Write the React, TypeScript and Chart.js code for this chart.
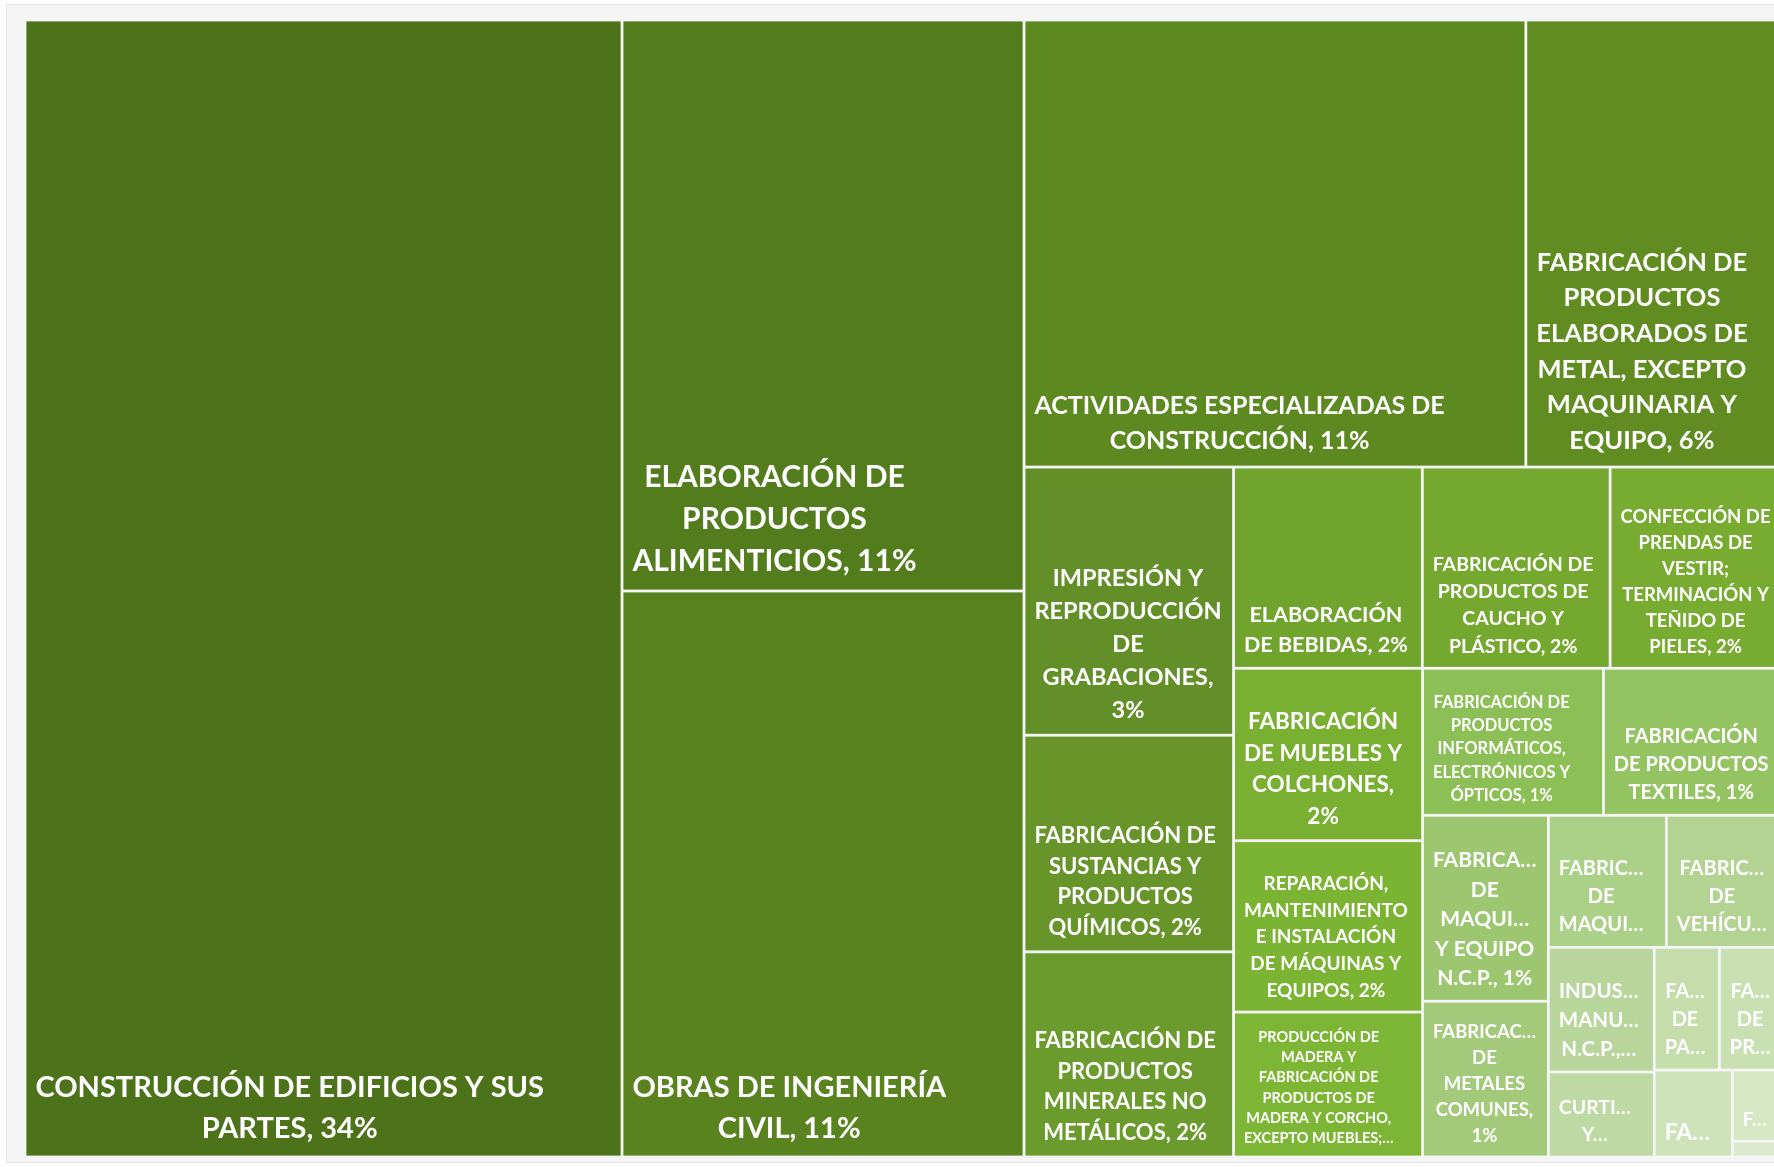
import React, { useEffect, useRef } from "react";
import { Chart, registerables } from "chart.js";

Chart.register(...registerables);

// ---- data ----
const categories: string[] = [
  "CONSTRUCCIÓN DE EDIFICIOS Y SUS PARTES",
  "ELABORACIÓN DE PRODUCTOS ALIMENTICIOS",
  "OBRAS DE INGENIERÍA CIVIL",
  "ACTIVIDADES ESPECIALIZADAS DE CONSTRUCCIÓN",
  "FABRICACIÓN DE PRODUCTOS ELABORADOS DE METAL, EXCEPTO MAQUINARIA Y EQUIPO",
  "IMPRESIÓN Y REPRODUCCIÓN DE GRABACIONES",
  "FABRICACIÓN DE SUSTANCIAS Y PRODUCTOS QUÍMICOS",
  "FABRICACIÓN DE PRODUCTOS MINERALES NO METÁLICOS",
  "ELABORACIÓN DE BEBIDAS",
  "FABRICACIÓN DE PRODUCTOS DE CAUCHO Y PLÁSTICO",
  "CONFECCIÓN DE PRENDAS DE VESTIR; TERMINACIÓN Y TEÑIDO DE PIELES",
  "FABRICACIÓN DE MUEBLES Y COLCHONES",
  "REPARACIÓN, MANTENIMIENTO E INSTALACIÓN DE MÁQUINAS Y EQUIPOS",
  "PRODUCCIÓN DE MADERA Y FABRICACIÓN DE PRODUCTOS DE MADERA Y CORCHO, EXCEPTO MUEBLES; FABRICACIÓN DE ARTÍCULOS DE PAJA Y DE MATERIALES TRENZABLES",
  "FABRICACIÓN DE PRODUCTOS INFORMÁTICOS, ELECTRÓNICOS Y ÓPTICOS",
  "FABRICACIÓN DE PRODUCTOS TEXTILES",
  "FABRICACIÓN DE MAQUINARIA Y EQUIPO N.C.P.",
  "FABRICACIÓN DE METALES COMUNES",
  "FABRICACIÓN DE MAQUINARIA Y APARATOS ELÉCTRICOS",
  "FABRICACIÓN DE VEHÍCULOS AUTOMOTORES, REMOLQUES Y SEMIRREMOLQUES",
  "INDUSTRIAS MANUFACTURERAS N.C.P.",
  "CURTIDO Y RECURTIDO DE CUEROS; FABRICACIÓN DE CALZADO",
  "FABRICACIÓN DE PAPEL Y DE PRODUCTOS DE PAPEL",
  "FABRICACIÓN DE PRODUCTOS FARMACÉUTICOS, SUSTANCIAS QUÍMICAS MEDICINALES Y PRODUCTOS BOTÁNICOS",
  "FABRICACIÓN DE OTROS EQUIPOS DE TRANSPORTE",
  "FABRICACIÓN DE COQUE Y PRODUCTOS DE LA REFINACIÓN DEL PETRÓLEO",
  "ELABORACIÓN DE PRODUCTOS DE TABACO",
];

const shares: number[] = [
  33.95, 11.48, 11.38, 11.22, 5.75, 2.81, 2.27, 2.15, 1.9, 1.89, 1.74, 1.63,
  1.62, 1.37, 1.33, 1.32, 1.17, 0.98, 0.78, 0.77, 0.66, 0.45, 0.4, 0.39, 0.34,
  0.18, 0.04,
];

// ---- styles ----
const cellColors: string[] = [
  "#4c731a", "#537c1d", "#58831f", "#5d8921", "#608c22", "#638f28", "#67952a",
  "#6b9b2c", "#71a42d", "#74a82e", "#77ac30", "#79b031", "#7bb332", "#7db634",
  "#8cbf55", "#94c362", "#9cc66f", "#a3ca7a", "#abd087", "#b2d392", "#b8d69b",
  "#bed9a3", "#c4ddab", "#c9e0b2", "#cfe3bb", "#d5e7c3", "#dbeacc",
];

const labelFontPx: number[] = [
  29, 30, 29, 25, 25.5, 23.5, 22, 22, 21.5, 19.5, 18.5, 22.5, 19, 14.5, 16.5,
  20, 21, 18.5, 20, 20, 20.5, 19.5, 20, 20, 23, 19, 18,
];

const FONT_FAMILY = "Lato, 'Open Sans', sans-serif";

type R = { x: number; y: number; w: number; h: number };

function squarify(values: number[], W: number, H: number): R[] {
  const total = values.reduce((a, b) => a + b, 0);
  const order = values.map((_, i) => i).sort((a, b) => values[b] - values[a]);
  const areas = order.map((i) => (values[i] / total) * W * H);
  const rects: R[] = new Array(values.length);
  let x = 0, y = 0, w = W, h = H;
  const worst = (row: number[], s: number) => {
    const sum = row.reduce((a, b) => a + b, 0);
    let m = 0;
    for (const r of row) {
      m = Math.max(m, (s * s * r) / (sum * sum), (sum * sum) / (s * s * r));
    }
    return m;
  };
  let i = 0;
  while (i < areas.length) {
    const s = Math.min(w, h);
    let row = [areas[i]];
    let best = worst(row, s);
    let j = i + 1;
    while (j < areas.length) {
      const cand = [...row, areas[j]];
      const wv = worst(cand, s);
      if (wv > best) break;
      row = cand;
      best = wv;
      j++;
    }
    const sum = row.reduce((a, b) => a + b, 0);
    if (w >= h) {
      const cw = sum / h;
      let yy = y;
      row.forEach((a, k) => {
        const rh = a / cw;
        rects[order[i + k]] = { x, y: yy, w: cw, h: rh };
        yy += rh;
      });
      x += cw;
      w -= cw;
    } else {
      const rh = sum / w;
      let xx = x;
      row.forEach((a, k) => {
        const cw = a / rh;
        rects[order[i + k]] = { x: xx, y, w: cw, h: rh };
        xx += cw;
      });
      y += rh;
      h -= rh;
    }
    i = j;
  }
  return rects;
}

function truncateWord(ctx: CanvasRenderingContext2D, word: string, maxW: number) {
  let s = word;
  while (s.length > 1 && ctx.measureText(s + "…").width > maxW) s = s.slice(0, -1);
  return s + "…";
}

function wrapLabel(ctx: CanvasRenderingContext2D, text: string, maxW: number, maxLines: number) {
  const words = text.split(" ");
  const lines: string[] = [];
  let cur = "";
  for (const word of words) {
    const test = cur ? cur + " " + word : word;
    if (ctx.measureText(test).width <= maxW) {
      cur = test;
    } else {
      if (cur) lines.push(cur);
      if (ctx.measureText(word).width > maxW) {
        lines.push(truncateWord(ctx, word, maxW));
        cur = "";
      } else {
        cur = word;
      }
    }
  }
  if (cur) lines.push(cur);
  if (lines.length > maxLines) {
    const kept = lines.slice(0, maxLines);
    if (kept.length > 0) {
      let last = kept[kept.length - 1];
      if (!last.endsWith("…")) {
        while (last.length > 1 && ctx.measureText(last + "…").width > maxW) last = last.slice(0, -1);
        last = last + "…";
      }
      kept[kept.length - 1] = last;
    }
    return kept;
  }
  return lines;
}

const treemapPlugin = {
  id: "treemapCells",
  afterDatasetsDraw(chart: any) {
    const { ctx, chartArea } = chart;
    const xs = chart.scales.x;
    const ys = chart.scales.y;
    const k = chartArea.width / chartArea.height;
    const rects = squarify(shares, k, 1);
    const total = shares.reduce((a, b) => a + b, 0);
    const g = 1.4;
    ctx.save();
    ctx.beginPath();
    ctx.rect(chartArea.left, chartArea.top, chartArea.width, chartArea.height);
    ctx.clip();
    rects.forEach((r, i) => {
      const x0 = xs.getPixelForValue((r.x / k) * 100);
      const x1 = xs.getPixelForValue(((r.x + r.w) / k) * 100);
      const y0 = ys.getPixelForValue(r.y * 100);
      const y1 = ys.getPixelForValue((r.y + r.h) * 100);
      const left = x0 + g, top = y0 + g;
      const cw = x1 - x0 - 2 * g, ch = y1 - y0 - 2 * g;
      ctx.fillStyle = cellColors[i];
      ctx.fillRect(left, top, cw, ch);

      const fs = labelFontPx[i];
      const lh = fs * 1.4;
      const padL = 9, padR = 9, padB = 7;
      const maxW = cw - padL - padR;
      const maxLines = Math.floor((ch - padB - 0.6 * fs) / lh);
      if (maxLines < 1 || maxW < 8) return;
      ctx.font = `bold ${fs}px ${FONT_FAMILY}`;
      const label = `${categories[i]}, ${Math.round((shares[i] / total) * 100)}%`;
      const lines = wrapLabel(ctx, label, maxW, maxLines);
      const blockW = Math.max(...lines.map((l) => ctx.measureText(l).width));
      const cx = left + padL + blockW / 2;
      ctx.save();
      ctx.beginPath();
      ctx.rect(left, top, cw, ch);
      ctx.clip();
      ctx.fillStyle = "#ffffff";
      ctx.textAlign = "center";
      ctx.textBaseline = "middle";
      const lastCy = top + ch - padB - lh / 2;
      lines.forEach((l, n) => {
        ctx.fillText(l, cx, lastCy - (lines.length - 1 - n) * lh);
      });
      ctx.restore();
    });
    ctx.restore();
  },
};

const CANVAS_W = 1800;
const CANVAS_H = 1167;

export default function App() {
  const ref = useRef<HTMLCanvasElement | null>(null);
  useEffect(() => {
    if (!ref.current) return;
    const chart = new Chart(ref.current, {
      type: "scatter",
      data: {
        datasets: [
          {
            label: "Participación",
            data: shares.map((v, i) => ({ x: i, y: v })),
            pointRadius: 0,
            pointHoverRadius: 0,
            showLine: false,
          },
        ],
      },
      options: {
        animation: false,
        responsive: false,
        devicePixelRatio: 1,
        events: [],
        layout: { padding: { left: 25, top: 20, right: CANVAS_W - 1783, bottom: CANVAS_H - 1157 } },
        plugins: { legend: { display: false }, tooltip: { enabled: false }, title: { display: false } },
        scales: {
          x: { type: "linear", min: 0, max: 100, display: false },
          y: { type: "linear", min: 0, max: 100, reverse: true, display: false },
        },
      },
      plugins: [treemapPlugin],
    });
    return () => chart.destroy();
  }, []);

  return (
    <div
      style={{
        position: "fixed",
        left: 0,
        top: 0,
        width: 1774,
        height: 1167,
        overflow: "hidden",
        background: "#ffffff",
      }}
    >
      <div
        style={{
          position: "absolute",
          left: 6,
          top: 4,
          width: 1850,
          height: 1159,
          background: "#f5f5f5",
          border: "1px solid #e4e4e4",
          boxSizing: "border-box",
        }}
      />
      <canvas
        ref={ref}
        width={CANVAS_W}
        height={CANVAS_H}
        style={{ position: "absolute", left: 0, top: 0, width: CANVAS_W, height: CANVAS_H }}
      />
    </div>
  );
}
